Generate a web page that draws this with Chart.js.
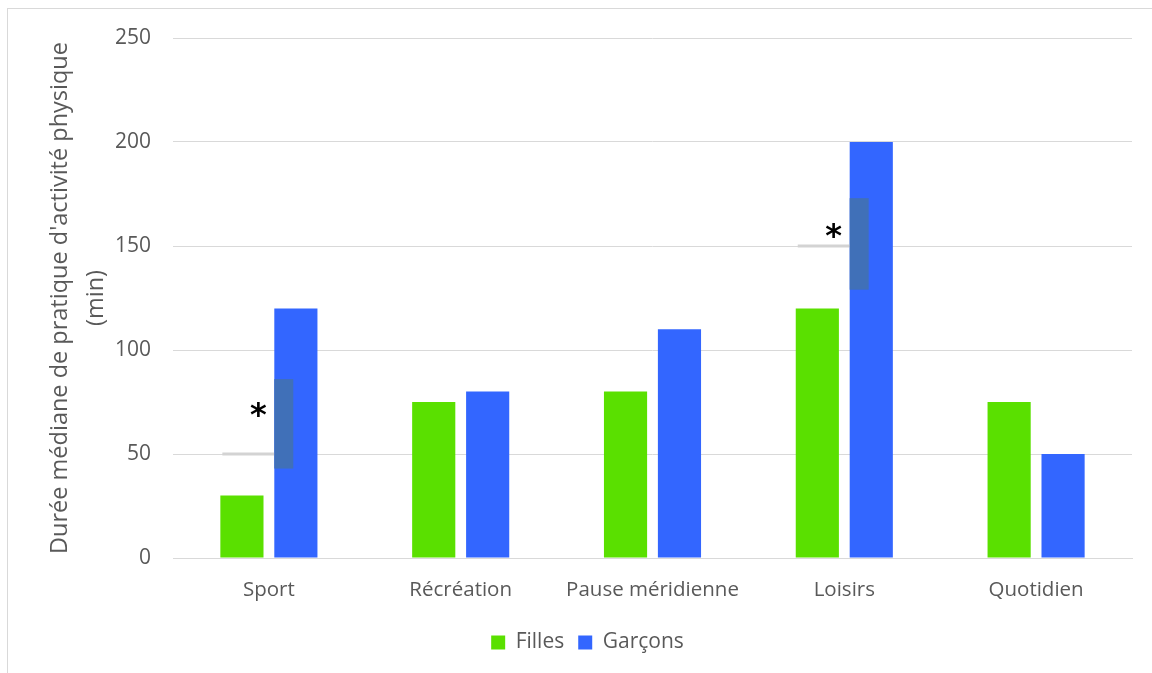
<!DOCTYPE html>
<html>
<head>
<meta charset="utf-8">
<script src="https://cdn.jsdelivr.net/npm/chart.js@4/dist/chart.umd.min.js"></script>
<style>
  body { margin: 0; background: #fff; }
  #wrap { position: relative; width: 1152px; height: 673px; }
  #frame { position: absolute; left: 7px; top: 8px; width: 1160px; height: 680px; border: 1px solid #d9d9d9; box-sizing: border-box; }
  canvas { position: absolute; left: 0; top: 0; }
</style>
</head>
<body>
<div id="wrap">
  <div id="frame"></div>
  <canvas id="chart" width="1152" height="673"></canvas>
</div>
<script>
const categories = ['Sport', 'Récréation', 'Pause méridienne', 'Loisirs', 'Quotidien']
const filles = [30, 75, 80, 120, 75]
const garcons = [120, 80, 110, 200, 50]
const yTicks = [0, 50, 100, 150, 200, 250]

// significance marks: category index, reference line value, box range, star height
const marks = [
    { index: 0, line: 50, from: 43, to: 86, star: 71 },
    { index: 3, line: 150, from: 129, to: 173, star: 157 }
]

const font = "'Open Sans', sans-serif"
const gray = '#595959'

const marksPlugin = {
    id: 'marks',
    afterDatasetsDraw(chart) {
        const ctx = chart.ctx
        const y = chart.scales.y
        const metaF = chart.getDatasetMeta(0)
        const metaG = chart.getDatasetMeta(1)
        marks.forEach(m => {
            const fb = metaF.data[m.index]
            const gb = metaG.data[m.index]
            const gLeft = gb.x - gb.width / 2
            const fLeft = fb.x - fb.width / 2
            ctx.save()
            ctx.strokeStyle = '#d3d3d3'
            ctx.lineWidth = 3
            ctx.beginPath()
            ctx.moveTo(fLeft + 2, y.getPixelForValue(m.line))
            ctx.lineTo(gLeft, y.getPixelForValue(m.line))
            ctx.stroke()
            ctx.fillStyle = '#4070b8'
            const top = y.getPixelForValue(m.to)
            const bot = y.getPixelForValue(m.from)
            ctx.fillRect(gLeft, top, gb.width * 0.44, bot - top)
            ctx.fillStyle = '#000'
            ctx.font = "bold 32px 'DejaVu Sans', sans-serif"
            ctx.textAlign = 'center'
            ctx.textBaseline = 'middle'
            ctx.fillText('*', gLeft - 16, y.getPixelForValue(m.star) + 6)
            ctx.restore()
        })
    }
}

const ctx = document.getElementById('chart').getContext('2d')
const chart = new Chart(ctx, {
    type: 'bar',
    data: {
        labels: categories,
        datasets: [
            {
                label: 'Filles',
                data: filles,
                backgroundColor: '#5ae000',
                barPercentage: 0.8,
                categoryPercentage: 0.5625
            },
            {
                label: 'Garçons',
                data: garcons,
                backgroundColor: '#3366ff',
                barPercentage: 0.8,
                categoryPercentage: 0.5625
            }
        ]
    },
    options: {
        responsive: false,
        animation: false,
        layout: {
            padding: { left: 43, right: 20, top: 38, bottom: 10 }
        },
        plugins: {
            tooltip: { enabled: false },
            legend: {
                position: 'bottom',
                labels: {
                    font: { family: font, size: 21 },
                    color: gray,
                    boxWidth: 14,
                    boxHeight: 14,
                    padding: 14
                }
            }
        },
        scales: {
            x: {
                grid: { display: false, drawTicks: false },
                border: { color: '#d9d9d9', width: 1 },
                ticks: {
                    font: { family: font, size: 20.5 },
                    color: gray,
                    padding: 20
                },
                afterFit(scale) { scale.height = 60 }
            },
            y: {
                min: 0,
                max: 250,
                afterBuildTicks(scale) { scale.ticks = yTicks.map(v => ({ value: v })) },
                grid: { color: '#d9d9d9', drawTicks: false },
                border: { display: false },
                ticks: {
                    font: { family: font, size: 21 },
                    color: gray,
                    padding: 22
                },
                title: {
                    display: true,
                    text: ["Durée médiane de pratique d'activité physique", '(min)'],
                    font: { family: font, size: 23.5, lineHeight: 1.5 },
                    color: gray,
                    padding: { top: 0, bottom: 10 }
                },
                afterFit(scale) { scale.width = 130 }
            }
        }
    },
    plugins: [marksPlugin]
})
</script>
</body>
</html>
